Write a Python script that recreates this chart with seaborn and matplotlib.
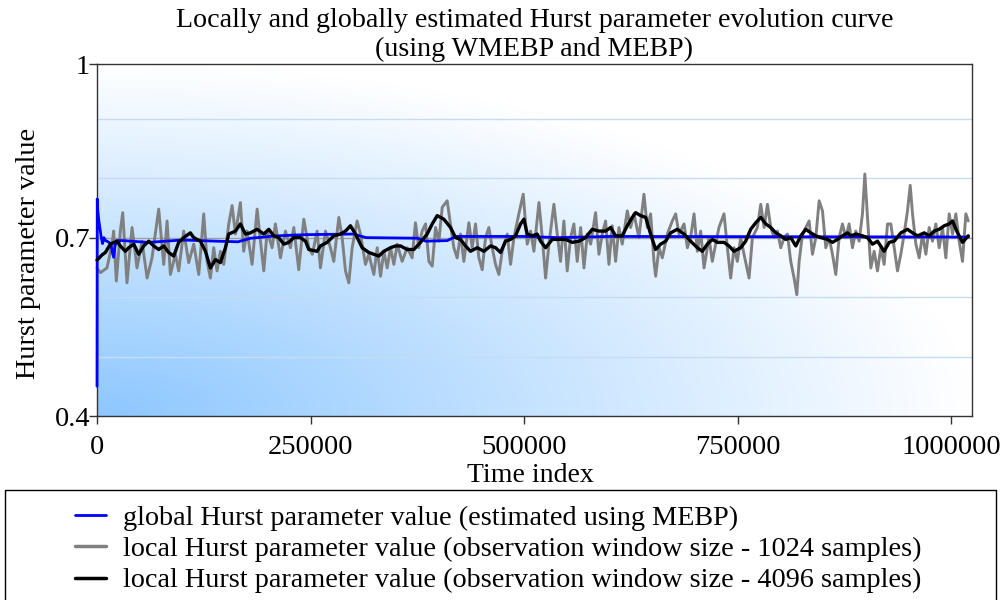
import numpy as np
import pandas as pd
import matplotlib
matplotlib.use("Agg")
import matplotlib.pyplot as plt
import seaborn as sns
from matplotlib.patches import Rectangle
from matplotlib.lines import Line2D

# ---------------- data (time index in thousands of samples) ----------------
gray_t_k = [
    0, 3.9, 11.7, 17.6, 19.5, 22.6, 27.3, 30.1, 35.1, 41.0,
    46.8, 52.7, 58.6, 64.4, 72.2, 78.1, 82.0, 85.9, 91.7, 95.6,
    101.5, 107.3, 113.2, 119.1, 124.9, 128.8, 132.7, 136.6, 140.5, 144.4,
    148.3, 154.2, 158.1, 162.0, 167.8, 171.7, 175.6, 181.5, 187.4, 191.3,
    195.2, 199.1, 204.9, 208.8, 214.7, 220.5, 226.4, 230.3, 236.1, 242.0,
    247.9, 252.0, 257.6,
    261.5, 267.4, 273.2, 277.1, 283.0, 286.9, 290.8, 294.7, 298.6, 304.4,
    308.3, 314.2, 318.1, 324.0, 327.9, 331.8, 335.7, 339.6, 343.5, 347.4,
    351.3, 357.1, 363.0, 368.8, 372.7, 376.6, 380.5, 384.5, 388.4, 392.3,
    396.2, 400.1, 404.0, 409.8, 413.7, 417.6, 421.5, 425.4, 429.3, 435.2,
    439.1, 443.0, 446.9, 450.8, 454.7, 458.6, 462.5, 466.4, 470.3, 474.2,
    480.1, 484.0, 487.9, 493.7, 498.8, 503.5, 507.4, 511.3,
    517.2, 521.1, 525.0, 528.9, 534.7, 538.6, 542.5, 546.4, 550.3, 554.2,
    558.1, 562.0, 566.0, 569.9, 573.8, 577.7, 583.5, 587.4, 591.3, 595.2,
    599.1, 603.0, 606.9, 610.8, 614.7, 620.6, 624.5, 628.4, 634.2, 640.1,
    644.0, 647.9, 651.8, 653.8, 657.7, 661.6, 667.4, 673.3, 677.2, 681.1,
    687.0, 690.9, 694.7, 698.7, 702.6, 706.5, 710.4, 716.2, 720.1, 724.0,
    727.9, 733.8, 737.7, 741.6, 745.5, 749.4, 753.3, 757.2, 763.1, 767.0,
    772.8,
    776.8, 780.7, 784.6, 788.5, 792.4, 796.3, 800.2, 804.1, 808.0, 811.9,
    815.8, 819.0, 821.7, 825.6, 829.5, 833.4, 837.3, 841.2, 845.1, 849.0,
    852.9, 856.8, 860.7, 864.6, 868.5, 872.4, 876.3, 880.2, 884.1, 888.0,
    891.9, 895.8, 898.6, 901.7, 905.6, 909.5, 913.4, 917.3, 921.2, 925.1,
    929.0, 932.9, 936.8, 940.7, 944.6, 948.5, 951.7, 954.4, 958.3, 962.2,
    966.1, 970.0, 973.9, 977.8, 981.7, 985.6, 989.5, 993.4, 997.3, 1001.2,
    1005.1, 1009.0, 1012.9, 1016.8, 1019.6,
]
gray_h = [
    0.649, 0.641, 0.649, 0.689, 0.711, 0.627, 0.711, 0.742, 0.624, 0.717,
    0.649, 0.694, 0.632, 0.666, 0.748, 0.655, 0.728, 0.638, 0.672, 0.644,
    0.711, 0.658, 0.689, 0.638, 0.740, 0.660, 0.632, 0.683, 0.644, 0.677,
    0.655, 0.723, 0.754, 0.706, 0.759, 0.677, 0.711, 0.655, 0.748, 0.694,
    0.644, 0.711, 0.683, 0.723, 0.666, 0.711, 0.683, 0.717, 0.646, 0.731,
    0.683, 0.672, 0.711,
    0.649, 0.711, 0.683, 0.660, 0.734, 0.700, 0.644, 0.624, 0.683, 0.728,
    0.706, 0.655, 0.672, 0.638, 0.683, 0.635, 0.677, 0.649, 0.683, 0.655,
    0.689, 0.660, 0.683, 0.666, 0.725, 0.683, 0.711, 0.723, 0.660, 0.652,
    0.717, 0.694, 0.751, 0.762, 0.723, 0.683, 0.666, 0.706, 0.660, 0.725,
    0.683, 0.723, 0.666, 0.646, 0.700, 0.717, 0.683, 0.655, 0.638, 0.677,
    0.706, 0.655, 0.700, 0.740, 0.773, 0.689, 0.711, 0.677,
    0.759, 0.700, 0.632, 0.689, 0.756, 0.706, 0.660, 0.728, 0.644, 0.700,
    0.723, 0.660, 0.717, 0.649, 0.706, 0.689, 0.742, 0.672, 0.706, 0.728,
    0.655, 0.720, 0.660, 0.717, 0.689, 0.745, 0.717, 0.740, 0.700, 0.773,
    0.717, 0.740, 0.660, 0.635, 0.683, 0.666, 0.706, 0.728, 0.740, 0.706,
    0.723, 0.683, 0.700, 0.740, 0.677, 0.711, 0.649, 0.700, 0.660, 0.689,
    0.717, 0.740, 0.683, 0.632, 0.683, 0.660, 0.700, 0.672, 0.632, 0.700,
    0.717,
    0.756, 0.717, 0.756, 0.717, 0.700, 0.711, 0.683, 0.700, 0.706, 0.660,
    0.632, 0.604, 0.660, 0.706, 0.717, 0.728, 0.672, 0.700, 0.762, 0.745,
    0.683, 0.700, 0.672, 0.638, 0.700, 0.723, 0.700, 0.723, 0.683, 0.711,
    0.694, 0.740, 0.807, 0.734, 0.649, 0.677, 0.644, 0.683, 0.655, 0.723,
    0.723, 0.683, 0.644, 0.672, 0.706, 0.745, 0.788, 0.740, 0.689, 0.666,
    0.706, 0.672, 0.717, 0.694, 0.723, 0.683, 0.717, 0.666, 0.740, 0.706,
    0.740, 0.694, 0.660, 0.740, 0.728,
]

black_t_k = [
    0, 5.9, 9.8, 15.6, 23.4, 27.3, 33.2, 37.1, 43.0, 48.8,
    54.7, 60.5, 66.4, 72.2, 78.1, 83.9, 89.8, 95.6, 101.5, 109.3,
    113.2, 121.0, 126.9, 132.7, 138.6, 144.4, 150.3, 154.2, 162.0, 167.8,
    173.7, 179.5, 187.4, 195.2, 201.0, 206.9, 212.7, 218.6, 224.4, 230.3,
    238.1, 244.0, 247.9, 257.6,
    261.5, 269.3, 277.1, 284.9, 290.8, 296.6, 302.5, 310.3, 318.1, 324.0,
    329.8, 335.7, 343.5, 349.3, 355.2, 363.0, 370.8, 378.6, 386.4, 392.3,
    398.1, 405.9, 413.7, 419.6, 425.4, 431.3, 437.1, 445.0, 452.8, 460.6,
    466.4, 472.3, 478.1, 484.0, 489.8, 495.7, 499.6, 503.5, 509.4, 515.2,
    519.1, 525.0, 532.8, 540.6, 548.4, 556.2, 564.0, 571.8, 579.6, 587.4,
    595.2, 601.1, 606.9, 614.7, 620.6, 626.4, 630.3, 636.2, 642.1, 647.9,
    653.8, 659.6, 665.5, 671.3, 679.1, 687.0, 694.7, 702.6, 708.4, 714.3,
    720.1, 726.0, 733.8, 739.6, 745.5, 753.3, 759.1, 765.0, 770.9,
    776.8, 782.7, 788.5, 794.4, 800.2, 806.1, 811.9, 817.8, 823.7, 829.5,
    835.4, 841.2, 847.1, 854.9, 860.7, 866.6, 872.4, 878.3, 882.2, 888.0,
    895.8, 901.7, 907.6, 913.4, 921.2, 927.1, 932.9, 940.7, 948.5, 954.4,
    960.3, 968.1, 974.0, 979.8, 985.6, 991.5, 997.3, 1001.2, 1007.1, 1012.9,
    1019.6,
]
black_h = [
    0.662, 0.671, 0.675, 0.689, 0.694, 0.686, 0.677, 0.683, 0.689, 0.672,
    0.686, 0.694, 0.686, 0.680, 0.686, 0.675, 0.669, 0.692, 0.700, 0.708,
    0.700, 0.694, 0.677, 0.649, 0.663, 0.658, 0.683, 0.706, 0.711, 0.723,
    0.706, 0.708, 0.714, 0.706, 0.714, 0.703, 0.700, 0.689, 0.692, 0.700,
    0.700, 0.694, 0.680, 0.677,
    0.686, 0.692, 0.703, 0.706, 0.711, 0.720, 0.706, 0.683, 0.675, 0.672,
    0.669, 0.677, 0.683, 0.686, 0.686, 0.680, 0.680, 0.692, 0.706, 0.723,
    0.737, 0.731, 0.717, 0.700, 0.697, 0.686, 0.677, 0.683, 0.677, 0.686,
    0.683, 0.675, 0.694, 0.697, 0.703, 0.723, 0.731, 0.706, 0.703, 0.706,
    0.694, 0.683, 0.697, 0.697, 0.697, 0.692, 0.694, 0.700, 0.714, 0.711,
    0.711, 0.717, 0.703, 0.703, 0.720, 0.734, 0.742, 0.737, 0.734, 0.706,
    0.680, 0.689, 0.694, 0.708, 0.714, 0.706, 0.694, 0.683, 0.677, 0.689,
    0.697, 0.692, 0.692, 0.686, 0.677, 0.683, 0.694, 0.714, 0.725,
    0.734, 0.723, 0.717, 0.708, 0.703, 0.697, 0.700, 0.686, 0.703, 0.714,
    0.708, 0.703, 0.700, 0.697, 0.692, 0.697, 0.703, 0.708, 0.703, 0.706,
    0.703, 0.700, 0.689, 0.694, 0.677, 0.692, 0.694, 0.708, 0.714, 0.708,
    0.703, 0.708, 0.703, 0.711, 0.714, 0.720, 0.723, 0.728, 0.708, 0.692,
    0.703,
]

blue_t_k = [0, 0.3, 1.0, 2.0, 3.5, 5.0, 6.5, 8.0, 10, 13,
            16, 18, 19.5, 21, 23, 30, 60, 100, 140, 165,
            180, 210, 245, 300, 315, 375, 385, 410, 420, 500,
            540, 600, 1020]
blue_h = [0.45, 0.765, 0.745, 0.73, 0.715, 0.70, 0.69, 0.70, 0.695, 0.693,
          0.69, 0.675, 0.667, 0.685, 0.695, 0.695, 0.692, 0.696, 0.694, 0.693,
          0.699, 0.703, 0.705, 0.706, 0.700, 0.699, 0.694, 0.695, 0.702, 0.702,
          0.700, 0.702, 0.701]

x_ticks = [0, 250000, 500000, 750000, 1000000]
x_tick_labels = ["0", "250000", "500000", "750000", "1000000"]
y_ticks = [0.4, 0.7, 0.992]
y_tick_labels = ["0.4", "0.7", "1"]
grid_levels = [0.5, 0.6, 0.8, 0.9]

labels = [
    "global Hurst parameter value (estimated using MEBP)",
    "local Hurst parameter value (observation window size - 1024 samples)",
    "local Hurst parameter value (observation window size - 4096 samples)",
]
title = "Locally and globally estimated Hurst parameter evolution curve\n(using WMEBP and MEBP)"

# ---------------- style ----------------
sns.set_style("white")
plt.rcParams['font.family'] = ['Liberation Serif', 'DejaVu Serif']
plt.rcParams['text.color'] = 'black'
plt.rcParams['axes.labelcolor'] = 'black'

gray_df = pd.DataFrame({"t": np.array(gray_t_k) * 1000, "h": gray_h})
black_df = pd.DataFrame({"t": np.array(black_t_k) * 1000, "h": black_h})
blue_df = pd.DataFrame({"t": np.array(blue_t_k) * 1000, "h": blue_h})

fig = plt.figure(figsize=(10.04, 6.0), dpi=100)
ax = fig.add_axes([97 / 1004, 1 - 416 / 600, 875 / 1004, 352 / 600])

# gradient background (radial from bottom-left)
nx, ny = 500, 250
xn = np.linspace(0, 1, nx)[None, :]
yn = np.linspace(0, 1, ny)[:, None]
r = np.clip(np.sqrt(xn ** 2 + yn ** 2), 0, 1)
c0 = np.array([0.55, 0.78, 1.0])
c1 = np.array([1.0, 1.0, 1.0])
img = c0[None, None, :] + (c1 - c0)[None, None, :] * r[:, :, None]
ax.imshow(img, origin='lower', extent=[0, 1, 0, 1], transform=ax.transAxes,
          aspect='auto', zorder=0, interpolation='bilinear')

for g in grid_levels:
    ax.axhline(g, color='#c5dcf2', lw=1.0, zorder=1)
ax.axhline(0.7, color='#a0a0a0', lw=1.0, zorder=1)

sns.lineplot(data=gray_df, x="t", y="h", ax=ax, color='#808080', linewidth=2.1,
             estimator=None, sort=False, legend=False, zorder=3)
sns.lineplot(data=blue_df, x="t", y="h", ax=ax, color='#0000ff', linewidth=2.0,
             estimator=None, sort=False, legend=False, zorder=4)
sns.lineplot(data=black_df, x="t", y="h", ax=ax, color='#000000', linewidth=2.4,
             estimator=None, sort=False, legend=False, zorder=5)
for ln in ax.lines[-3:]:
    ln.set_clip_on(False)

ax.set_xlim(0, 1024000)
ax.set_ylim(0.4, 0.992)
ax.set_xticks(x_ticks)
ax.set_xticklabels(x_tick_labels)
ax.set_yticks(y_ticks)
ax.set_yticklabels(y_tick_labels)
ax.tick_params(axis='both', which='major', bottom=True, left=True, direction='out',
               length=6, width=1, color='#333333', labelcolor='black', labelsize=20.5)
ax.tick_params(axis='x', pad=7.5)
ax.tick_params(axis='y', pad=-1)
for s in ax.spines.values():
    s.set_color('#333333')
    s.set_linewidth(1.0)
    s.set_visible(True)
    s.set_zorder(2.5)

ax.set_xlabel("Time index", fontsize=20)
ax.set_ylabel("Hurst parameter value", fontsize=20.3)
ax.xaxis.set_label_coords(0.495, -0.133)
ax.yaxis.set_label_coords(-0.064, 0.463)
ax.set_title(title, fontsize=20.2, linespacing=1.18, pad=6)

# legend
handles = [Line2D([], [], color='#0000ff', lw=2.0),
           Line2D([], [], color='#808080', lw=2.5),
           Line2D([], [], color='#000000', lw=2.5)]
fig.legend(handles, labels, loc='upper left', bbox_to_anchor=(75 / 1004, 1 - 505 / 600),
           frameon=False, fontsize=20.3, handlelength=1.1, handletextpad=0.62,
           labelspacing=0.2, borderaxespad=0, borderpad=0)
fig.add_artist(Rectangle((5 / 1004, -0.05), 991 / 1004, 0.05 + 110 / 600,
                         transform=fig.transFigure, fill=False, edgecolor='black', lw=1.0))

fig.savefig("out.png", dpi=100)
